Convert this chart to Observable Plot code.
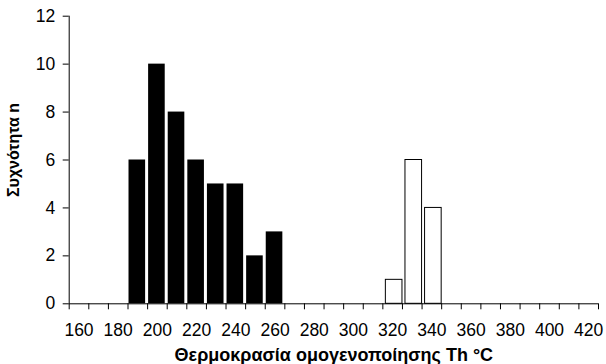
<!DOCTYPE html>
<html>
<head>
<meta charset="utf-8">
<script src="https://cdn.jsdelivr.net/npm/d3@7"></script>
<script src="https://cdn.jsdelivr.net/npm/@observablehq/plot@0.6"></script>
<style>
  html, body { margin: 0; padding: 0; background: #fff; }
  svg { display: block; }
</style>
</head>
<body>
<div id="chart"></div>
<script>
// Category bins (°C, left edge of each 10° class)
const blackBins = [190, 200, 210, 220, 230, 240, 250, 260];
const blackCounts = [6, 10, 8, 6, 5, 5, 2, 3];
const whiteBins = [320, 330, 340];
const whiteCounts = [1, 6, 4];
const binWidth = 10;
const xDomain = [160, 430];
const xTickLabels = [160, 180, 200, 220, 240, 260, 280, 300, 320, 340, 360, 380, 400, 420];
const yTicks = [0, 2, 4, 6, 8, 10, 12];
const xTitle = "Θερμοκρασία ομογενοποίησης Th °C";
const yTitle = "Συχνότητα n";

const blackData = blackBins.map((b, i) => ({x1: b, x2: b + binWidth, n: blackCounts[i]}));
const whiteData = whiteBins.map((b, i) => ({x1: b, x2: b + binWidth, n: whiteCounts[i]}));
const boundaryTicks = d3.range(xDomain[0], xDomain[1] + 1, binWidth);

const chart = Plot.plot({
  width: 606,
  height: 364,
  marginLeft: 68.7,
  marginRight: 8,
  marginTop: 15.7,
  marginBottom: 60.7,
  style: {fontFamily: "Arial, 'Liberation Sans', sans-serif", fontSize: "17.5px", color: "#000", background: "#fff"},
  x: {type: "linear", domain: xDomain},
  y: {domain: [0, 12]},
  marks: [
    Plot.rectY(blackData, {x1: "x1", x2: "x2", y: "n", fill: "#000", insetLeft: 1, insetRight: 2}),
    Plot.rectY(whiteData, {x1: "x1", x2: "x2", y: "n", fill: "#fff", stroke: "#000", strokeWidth: 1, insetLeft: 3, insetRight: 0}),
    Plot.ruleX([xDomain[0]], {stroke: "#000", strokeWidth: 1}),
    Plot.ruleY([0], {stroke: "#000", strokeWidth: 1}),
    Plot.axisY({ticks: yTicks, tickSize: 6, tickPadding: 8, label: null, fontSize: 17.5, stroke: "#000"}),
    Plot.axisX({ticks: boundaryTicks, tickSize: 6, tickFormat: () => "", label: null, stroke: "#000"}),
    Plot.axisX({ticks: xTickLabels.map(v => v + binWidth / 2), tickSize: 0, tickPadding: 20, tickFormat: v => String(v - binWidth / 2), label: null, fontSize: 17.5}),
    Plot.text([xTitle], {frameAnchor: "bottom", text: d => d, textAnchor: "middle", lineAnchor: "bottom", dy: 56.7, fontWeight: "bold", fontSize: 18, fill: "#000"}),
    Plot.text([yTitle], {frameAnchor: "left", text: d => d, textAnchor: "middle", rotate: -90, lineAnchor: "bottom", dx: -50.4, dy: -10, fontWeight: "bold", fontSize: 16, fill: "#000"})
  ]
});
document.getElementById("chart").appendChild(chart);
</script>
</body>
</html>
